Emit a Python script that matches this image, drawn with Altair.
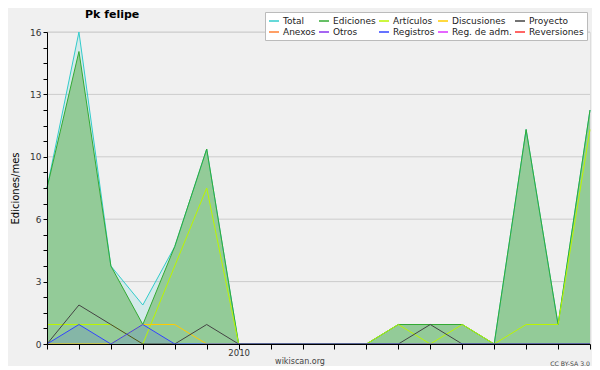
import altair as alt
import pandas as pd

# Month index 0 = Jul 2009 ... 17 = Dec 2010
months = list(range(18))

total       = [8, 16, 4, 2, 5, 10, 0, 0, 0, 0, 0, 1, 1, 1, 0, 11, 1, 12]
ediciones   = [8, 15, 4, 1, 5, 10, 0, 0, 0, 0, 0, 1, 1, 1, 0, 11, 1, 12]
articulos   = [1, 1, 1, 0, 4, 8, 0, 0, 0, 0, 0, 1, 0, 1, 0, 1, 1, 11]
discusiones = [0, 0, 0, 1, 1, 0, 0, 0, 0, 0, 0, 0, 0, 0, 0, 0, 0, 0]
proyecto    = [0, 2, 1, 0, 0, 1, 0, 0, 0, 0, 0, 0, 1, 0, 0, 0, 0, 0]
registros   = [0, 1, 0, 1, 0, 0, 0, 0, 0, 0, 0, 0, 0, 0, 0, 0, 0, 0]

legend_names = ["Total", "Ediciones", "Artículos", "Discusiones", "Proyecto",
                "Anexos", "Otros", "Registros", "Reg. de adm.", "Reversiones"]
legend_colors = ["#33cccc", "#33aa33", "#bbf500", "#ffcc00", "#444444",
                 "#ff8033", "#8833ee", "#3344ff", "#dd33ff", "#ff3333"]

y_major = [0, 3.2, 6.4, 9.6, 12.8, 16]
y_ticks = [0, 0.8, 1.6, 2.4, 3.2, 4.0, 4.8, 5.6, 6.4, 7.2, 8.0, 8.8, 9.6,
           10.4, 11.2, 12.0, 12.8, 13.6, 14.4, 15.2, 16]

series = {
    "Total": total,
    "Ediciones": ediciones,
    "Artículos": articulos,
    "Discusiones": discusiones,
    "Proyecto": proyecto,
    "Registros": registros,
}

rows = []
for name, vals in series.items():
    for m, v in zip(months, vals):
        rows.append({"serie": name, "m": m, "v": v})
df = pd.DataFrame(rows)

FONT = "DejaVu Sans"

x_enc = alt.X(
    "m:Q",
    scale=alt.Scale(domain=[0, 17], nice=False, zero=False),
    axis=alt.Axis(
        values=months,
        labelExpr="datum.value == 6 ? '2010' : ''",
        title=None, grid=False, tickSize=5, labelPadding=-1,
        labelFont=FONT, labelFontSize=8.5, labelColor="#333",
        labelOverlap=False, labelFlush=False,
        domainColor="black", tickColor="black", zindex=1,
    ),
)
y_enc = alt.Y(
    "v:Q",
    scale=alt.Scale(domain=[0, 16], nice=False),
    axis=alt.Axis(
        values=y_ticks,
        labelExpr="indexof([0,3.2,6.4,9.6,12.8,16], datum.value) >= 0 ? format(round(datum.value), 'd') : ''",
        title="Ediciones/mes", titleFont=FONT, titleFontSize=10,
        titleFontWeight="normal", titleColor="black", titlePadding=9,
        grid=False, tickSize=4, labelPadding=2,
        labelFont=FONT, labelFontSize=9, labelColor="#333",
        labelOverlap=False, labelFlush=False,
        domainColor="black", tickColor="black", zindex=1,
    ),
)

grid = alt.Chart(pd.DataFrame({"v": y_major[1:]})).mark_rule(
    color="#cccccc", strokeWidth=1
).encode(y=y_enc)

area_total = alt.Chart(df).transform_filter(alt.datum.serie == "Total").mark_area(
    color="#33cccc", opacity=0.15
).encode(x=x_enc, y=y_enc)

area_edits = alt.Chart(df).transform_filter(alt.datum.serie == "Ediciones").mark_area(
    color="#93cb98", opacity=1
).encode(x=x_enc, y=y_enc)

area_reg = alt.Chart(df).transform_filter(alt.datum.serie == "Registros").mark_area(
    color="#3344ff", opacity=0.15
).encode(x=x_enc, y=y_enc)

lines = alt.Chart(df).mark_line(strokeWidth=1).encode(
    x=x_enc,
    y=y_enc,
    color=alt.Color(
        "serie:N",
        scale=alt.Scale(domain=legend_names, range=legend_colors),
        legend=alt.Legend(
            orient="none", legendX=218, legendY=-20, columns=5,
            direction="horizontal", title=None,
            symbolType="stroke", symbolSize=100, symbolStrokeWidth=1.5,
            labelFont=FONT, labelFontSize=9, labelColor="#222",
            labelOffset=3, columnPadding=0, rowPadding=0, padding=3,
            fillColor="white", strokeColor="#bbbbbb",
        ),
    ),
    strokeWidth=alt.condition(alt.datum.serie == "Ediciones", alt.value(1.6), alt.value(1)),
)

title_txt = alt.Chart(pd.DataFrame({"t": ["Pk felipe"]})).mark_text(
    font=FONT, fontSize=11, fontWeight="bold", align="left", baseline="alphabetic", color="black"
).encode(x=alt.value(38), y=alt.value(-14), text="t:N")

site_txt = alt.Chart(pd.DataFrame({"t": ["wikiscan.org"]})).mark_text(
    font=FONT, fontSize=8, align="center", baseline="alphabetic", color="#444"
).encode(x=alt.value(253), y=alt.value(332), text="t:N")

cc_txt = alt.Chart(pd.DataFrame({"t": ["CC BY-SA 3.0"]})).mark_text(
    font=FONT, fontSize=6.2, align="right", baseline="alphabetic", color="#444"
).encode(x=alt.value(543), y=alt.value(334), text="t:N")

chart = alt.layer(
    grid, area_total, area_edits, area_reg, lines, title_txt, site_txt, cc_txt
).properties(
    width=543, height=312,
    autosize=alt.AutoSizeParams(type="none"),
    padding={"left": 39, "top": 24, "right": 2, "bottom": 22},
    background="#f0f0f0",
).configure_view(
    stroke=None, fill="#eff0f2"
).configure(font=FONT)

chart.save("out.html", embed_options={"renderer": "svg", "actions": False})
